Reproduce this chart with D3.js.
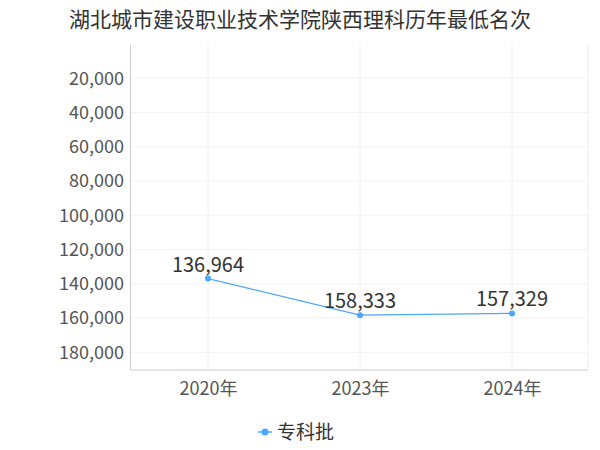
<!DOCTYPE html>
<html><head><meta charset="utf-8">
<script src="https://cdn.jsdelivr.net/npm/d3@7"></script>
<style>body{margin:0;background:#fff;font-family:"Noto Sans CJK SC","Noto Sans",sans-serif;}</style>
</head><body><svg id="c" width="600" height="450"></svg>
<script>
const title = "湖北城市建设职业技术学院陕西理科历年最低名次";
const years = ["2020年", "2023年", "2024年"];
const ranks = [136964, 158333, 157329];
const seriesName = "专科批";
const yTicks = [20000, 40000, 60000, 80000, 100000, 120000, 140000, 160000, 180000];

const svg = d3.select("#c");
const pL = 130, pR = 588, pT = 44, pB = 370;
const x = d3.scalePoint().domain(years).range([208, 512]);
const y = d3.scaleLinear().domain([0, 190350]).range([pT, pB]);
const fmt = d3.format(",");

svg.append("text").attr("x", 300).attr("y", 27).attr("text-anchor", "middle")
  .attr("font-size", 21).attr("fill", "#333").text(title);

// grid
svg.append("g").selectAll("line").data(years).join("line")
  .attr("x1", d => x(d)).attr("x2", d => x(d)).attr("y1", pT).attr("y2", pB)
  .attr("stroke", "#f0f0f0");
svg.append("g").selectAll("line").data(yTicks).join("line")
  .attr("x1", pL).attr("x2", pR).attr("y1", d => y(d)).attr("y2", d => y(d))
  .attr("stroke", "#f3f3f3");
svg.append("line").attr("x1", pR).attr("x2", pR).attr("y1", pT).attr("y2", pB).attr("stroke", "#f0f0f0");

const ya = svg.append("g").attr("transform", `translate(${pL},0)`)
  .call(d3.axisLeft(y).tickValues(yTicks).tickFormat(fmt).tickSize(0).tickPadding(6));
ya.select(".domain").attr("stroke", "#ccc");
ya.selectAll("text").attr("font-size", 18).attr("fill", "#555").attr("font-family", "Noto Sans CJK SC");

const xa = svg.append("g").attr("transform", `translate(0,${pB})`)
  .call(d3.axisBottom(x).tickSize(0).tickPadding(12));
xa.select(".domain").attr("d", `M${pL},0H${pR}`).attr("stroke", "#ccc");
xa.selectAll("text").attr("font-size", 18).attr("fill", "#555").attr("font-family", "Noto Sans CJK SC");

const pts = years.map((d, i) => [x(d), y(ranks[i])]);
svg.append("path").attr("d", d3.line()(pts)).attr("fill", "none")
  .attr("stroke", "#4da6ff").attr("stroke-width", 1.2);
svg.append("g").selectAll("circle").data(pts).join("circle")
  .attr("cx", d => d[0]).attr("cy", d => d[1]).attr("r", 3).attr("fill", "#4da6ff");
svg.append("g").selectAll("text").data(pts).join("text")
  .attr("x", d => d[0]).attr("y", d => d[1] - 7).attr("text-anchor", "middle")
  .attr("font-size", 20).attr("fill", "#333").text((d, i) => fmt(ranks[i]));

// legend
const lg = svg.append("g").attr("transform", "translate(258,432)");
lg.append("line").attr("x1", 0).attr("x2", 14).attr("stroke", "#4da6ff").attr("stroke-width", 1.5);
lg.append("circle").attr("cx", 7).attr("r", 3.5).attr("fill", "#4da6ff");
lg.append("text").attr("x", 19).attr("y", 7).attr("font-size", 19).attr("fill", "#333").text(seriesName);
</script></body></html>
